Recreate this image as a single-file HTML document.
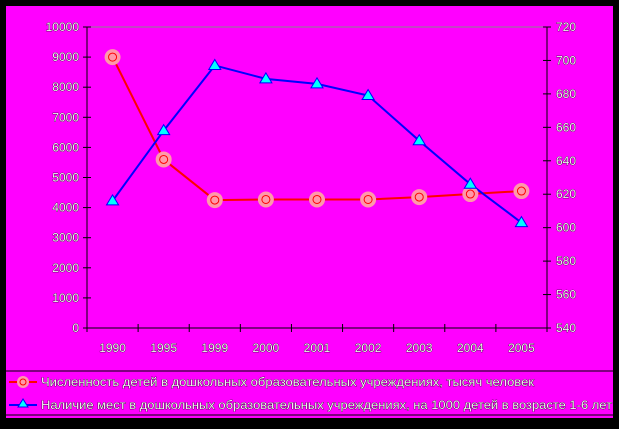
<!DOCTYPE html>
<html><head><meta charset="utf-8"><style>
body{margin:0;background:#000;}
svg text{font-family:"Liberation Sans",sans-serif;font-size:12px;fill:#f0f0f0;stroke:#000;stroke-width:0.6px;paint-order:stroke;}
</style></head><body>
<svg id="c" width="619" height="424" xmlns="http://www.w3.org/2000/svg">
<rect x="0" y="0" width="619" height="424" fill="#000"/>
<rect x="6" y="6" width="607" height="412" fill="#ff00ff"/>
<line x1="87" y1="27" x2="547" y2="27" stroke="#888"/>
<line x1="6" y1="371" x2="613" y2="371" stroke="#000"/>
<line x1="6" y1="415" x2="613" y2="415" stroke="#000"/>
<g id="g"></g>
<g>
<line x1="9" y1="382" x2="37" y2="382" stroke="#f00" stroke-width="2"/>
<circle cx="23" cy="382" r="6" fill="#f9a"/><circle cx="23" cy="382" r="3" fill="none" stroke="#f00"/>
<text x="41" y="386" textLength="493" lengthAdjust="spacingAndGlyphs">Численность детей в дошкольных образовательных учреждениях, тысяч человек</text>
<line x1="9" y1="405" x2="37" y2="405" stroke="#00f" stroke-width="2"/>
<polygon points="23,399 18,407 28,407" fill="#0ff" stroke="#00f"/>
<text x="41" y="409" textLength="571" lengthAdjust="spacingAndGlyphs">Наличие мест в дошкольных образовательных учреждениях, на 1000 детей в возрасте 1-6 лет</text>
</g>
</svg>
<script>
const categories=["1990","1995","1999","2000","2001","2002","2003","2004","2005"];
const children=[9000,5600,4250,4270,4270,4270,4350,4450,4550];
const places=[616,658,697,689,686,679,652,626,603];
const leftTicks=[0,1000,2000,3000,4000,5000,6000,7000,8000,9000,10000];
const rightTicks=[540,560,580,600,620,640,660,680,700,720];
const NS="http://www.w3.org/2000/svg",g=document.getElementById('g');
const L=87,R=547,T=27,B=328;
const x=i=>L+(R-L)/categories.length*(i+0.5);
const yl=v=>B-(v-0)/(10000-0)*(B-T);
const yr=v=>B-(v-540)/(720-540)*(B-T);
function mk(t,a,txt){const e=document.createElementNS(NS,t);for(const k in a)e.setAttribute(k,a[k]);if(txt!=null)e.textContent=txt;g.appendChild(e);return e;}
let e;
e=mk('line',{x1:L,y1:T,x2:L,y2:B,stroke:'#000'});


e=mk('line',{x1:R,y1:T,x2:R,y2:B,stroke:'#000'});


e=mk('line',{x1:L,y1:B,x2:R,y2:B,stroke:'#000'});


leftTicks.forEach(v=>{mk('line',{x1:L-4,y1:yl(v),x2:L+4,y2:yl(v),stroke:'#000'});
e=mk('text',{x:L-8,y:yl(v)+4,'text-anchor':'end'},v);

});
rightTicks.forEach(v=>{mk('line',{x1:R-4,y1:yr(v),x2:R+4,y2:yr(v),stroke:'#000'});
e=mk('text',{x:R+9,y:yr(v)+4},v);

});
for(let i=0;i<=categories.length;i++){const xx=L+(R-L)/categories.length*i;mk('line',{x1:xx,y1:B-4,x2:xx,y2:B+4,stroke:'#000'});}
categories.forEach((c,i)=>{e=mk('text',{x:x(i),y:352,'text-anchor':'middle'},c);

});
e=mk('polyline',{points:children.map((v,i)=>x(i)+','+yl(v)).join(' '),fill:'none',stroke:'#f00','stroke-width':2});


e=mk('polyline',{points:places.map((v,i)=>x(i)+','+yr(v)).join(' '),fill:'none',stroke:'#00f','stroke-width':2});


children.forEach((v,i)=>{e=mk('circle',{cx:x(i),cy:yl(v),r:8,fill:'#f9a'});


mk('circle',{cx:x(i),cy:yl(v),r:4,fill:'none',stroke:'#f00'});});
places.forEach((v,i)=>{const X=x(i),Y=yr(v);e=mk('polygon',{points:`${X},${Y-6} ${X-6},${Y+4} ${X+6},${Y+4}`,fill:'#0ff',stroke:'#00f'});

});
</script>
</body></html>
